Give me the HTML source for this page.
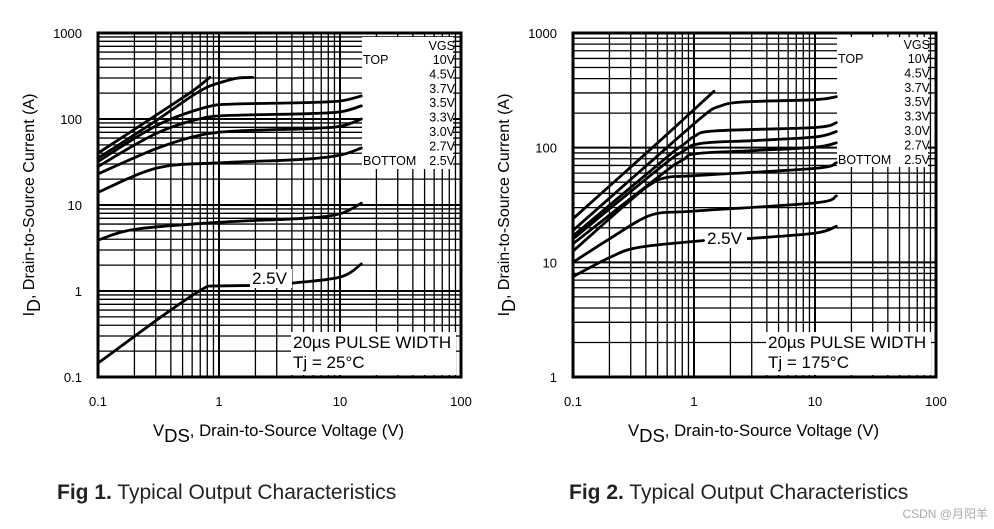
<!DOCTYPE html>
<html><head><meta charset="utf-8">
<style>
html,body{margin:0;padding:0;background:#fff;}
svg{display:block;font-family:"Liberation Sans",Arial,sans-serif;}
</style></head>
<body>
<svg id="root" width="994" height="529" viewBox="0 0 994 529"></svg>
<script>
// ---------- data ----------
const xTickLabels = ["0.1","1","10","100"];
const yTickLabels1 = ["0.1","1","10","100","1000"];
const yTickLabels2 = ["1","10","100","1000"];
const legendVgs = ["10V","4.5V","3.7V","3.5V","3.3V","3.0V","2.7V","2.5V"];

// Fig 1 (Tj = 25°C): [Vds, Id] pairs per curve
const f1_10V  = [[0.1,40],[0.3,110],[0.6,210],[0.84,305]];
const f1_4V5  = [[0.1,35],[0.3,95],[0.58,180],[0.8,235],[1.07,270],[1.4,298],[1.9,305]];
const f1_3V7  = [[0.1,32],[0.31,85],[0.79,138],[1.3,149],[5,155],[10,162],[15,185]];
const f1_3V5  = [[0.1,28],[0.31,69],[0.79,105],[1.5,111],[5,115],[10,121],[15,142]];
const f1_3V3  = [[0.1,23],[0.3,45],[0.7,65],[1.5,73],[5,77],[10,82],[15,100]];
const f1_2V7  = [[0.1,14],[0.31,27],[1.07,31],[5,34],[10,38],[15,46]];
const f1_low  = [[0.1,3.9],[0.2,5.2],[1,6.3],[5,7],[10,7.9],[15,10.5]];
const f1_2V5a = [[0.1,0.145],[0.81,1.14],[1.8,1.16]];
const f1_2V5b = [[3.9,1.23],[10,1.45],[15,2.06]];

// Fig 2 (Tj = 175°C)
const f2_10V  = [[0.1,24],[0.5,110],[1.46,310]];
const f2_4V5  = [[0.1,19],[0.5,85],[1.2,190],[1.6,228],[2.5,250],[10,262],[15,278]];
const f2_3V7  = [[0.1,17],[0.7,95],[1,125],[1.5,140],[10,150],[15,165]];
const f2_3V5  = [[0.1,16],[0.7,85],[1.1,108],[3,115],[10,124],[15,138]];
const f2_3V3  = [[0.1,14.5],[0.7,72],[1,88],[3,94],[10,101],[15,110]];
const f2_3V0  = [[0.1,12.5],[0.4,45],[0.6,55],[1,57],[10,66],[15,74]];
const f2_2V7  = [[0.1,10],[0.2,16],[0.45,26],[1,28],[10,33],[15,38]];
const f2_2V5a = [[0.1,7.5],[0.2,11],[0.35,13.5],[1.2,15.5]];
const f2_2V5b = [[2.6,16],[10,18],[15,20.6]];

const NS="http://www.w3.org/2000/svg";
const root=document.getElementById('root');
function el(tag,attrs,parent){const e=document.createElementNS(NS,tag);for(const k in attrs)e.setAttribute(k,attrs[k]);(parent||root).appendChild(e);return e;}
function clamp(v,a,b){const lo=Math.min(a,b),hi=Math.max(a,b);return Math.max(lo,Math.min(hi,v));}

function makeChart(cfg){
  const g=el('g',{});
  
  
  const X=v=>cfg.x0+(Math.log10(v)-cfg.xmin)/(cfg.xmax-cfg.xmin)*(cfg.x1-cfg.x0);
  const Y=v=>cfg.y1-(Math.log10(v)-cfg.ymin)/(cfg.ymax-cfg.ymin)*(cfg.y1-cfg.y0);
  const grid=el('g',{stroke:'#000',fill:'none'},g);
  
  
  for(let d=cfg.xmin;d<cfg.xmax;d++){for(let m=1;m<10;m++){const x=X(m*Math.pow(10,d));el('line',{x1:x,x2:x,y1:cfg.y0,y2:cfg.y1,'stroke-width':m==1?2:1.3},grid);}}
  for(let d=cfg.ymin;d<cfg.ymax;d++){for(let m=1;m<10;m++){const y=Y(m*Math.pow(10,d));el('line',{x1:cfg.x0,x2:cfg.x1,y1:y,y2:y,'stroke-width':m==1?2:1.3},grid);}}
  el('rect',{x:cfg.lx,y:cfg.y0+4,width:cfg.x1-cfg.lx-8,height:cfg.lh,fill:'#fff'},g);
  cfg.curves.forEach((c,i)=>{
    const pts=c.map(p=>[X(p[0]),Y(p[1])]);
    let d='M'+pts[0][0].toFixed(1)+','+pts[0][1].toFixed(1);
    for(let k=0;k<pts.length-1;k++){
      const p0=pts[Math.max(0,k-1)],p1=pts[k],p2=pts[k+1],p3=pts[Math.min(pts.length-1,k+2)];
      const c1=[p1[0]+(p2[0]-p0[0])/6,clamp(p1[1]+(p2[1]-p0[1])/6,p1[1],p2[1])];
      const c2=[p2[0]-(p3[0]-p1[0])/6,clamp(p2[1]-(p3[1]-p1[1])/6,p1[1],p2[1])];
      d+=' C'+c1[0].toFixed(1)+','+c1[1].toFixed(1)+' '+c2[0].toFixed(1)+','+c2[1].toFixed(1)+' '+p2[0].toFixed(1)+','+p2[1].toFixed(1);
    }
    const p=el('path',{d:d,stroke:'#000','stroke-width':2.8,fill:'none','stroke-linecap':'round'},g);
    
    
  });
  el('rect',{x:cfg.x0,y:cfg.y0,width:cfg.x1-cfg.x0,height:cfg.y1-cfg.y0,fill:'none',stroke:'#000','stroke-width':3},g);
  const lg=el('g',{'font-size':12.5,fill:'#000'},g);
  
  
  const rx=cfg.x1-6;
  let t=el('text',{x:rx,y:cfg.ly0,'text-anchor':'end'},lg);t.textContent='VGS';
  legendVgs.forEach((v,i)=>{const tt=el('text',{x:rx,y:cfg.ly0+14+i*14.4,'text-anchor':'end'},lg);tt.textContent=v;});
  t=el('text',{x:cfg.lx+1,y:cfg.ly0+14},lg);t.textContent='TOP';
  t=el('text',{x:cfg.lx+1,y:cfg.ly0+14+7*14.4},lg);t.textContent='BOTTOM';
  el('rect',{x:cfg.lab[0]-2,y:cfg.lab[1]-15,width:42,height:19,fill:'#fff'},g);
  t=el('text',{x:cfg.lab[0],y:cfg.lab[1],'font-size':17},g);t.textContent='2.5V';
  
  el('rect',{x:cfg.x1-170,y:cfg.y1-45,width:165,height:43,fill:'#fff'},g);
  t=el('text',{x:cfg.x1-168,y:cfg.y1-29,'font-size':17},g);t.textContent='20µs PULSE WIDTH';
  
  t=el('text',{x:cfg.x1-168,y:cfg.y1-9,'font-size':17},g);t.textContent=cfg.tj;
  
  xTickLabels.forEach((s,i)=>{const tt=el('text',{x:X(Math.pow(10,cfg.xmin+i)),y:406,'font-size':13,'text-anchor':'middle'},g);tt.textContent=s;
    });
  cfg.yTicks.forEach((s,i)=>{const tt=el('text',{x:cfg.x0-16,y:Y(Math.pow(10,cfg.ymin+i))+5,'font-size':13,'text-anchor':'end'},g);tt.textContent=s;
    });
  const xt=el('text',{x:(cfg.x0+cfg.x1)/2-1,y:436,'font-size':16.7,'text-anchor':'middle'},g);
  xt.innerHTML='V<tspan dy="6" font-size="18.5">DS</tspan><tspan dy="-6">, Drain-to-Source Voltage (V)</tspan>';
  
  const yt=el('text',{transform:'translate('+(cfg.x0-64)+','+((cfg.y0+cfg.y1)/2)+') rotate(-90)','font-size':16,'text-anchor':'middle'},g);
  yt.innerHTML='I<tspan dy="6" font-size="18">D</tspan><tspan dy="-6">, Drain-to-Source Current (A)</tspan>';
  
  const cap=el('text',{x:cfg.capx,y:499,'font-size':21,fill:'#222'},g);
  cap.innerHTML='<tspan font-weight="bold">'+cfg.fig+'</tspan>  Typical Output Characteristics';
  
}

makeChart({name:'chart-fig1',x0:98,x1:461,y0:33,y1:377,xmin:-1,xmax:2,ymin:-1,ymax:3,
  lx:362,lh:132,ly0:50,lab:[252,284],tj:'Tj = 25°C',yTicks:yTickLabels1,capx:57,fig:'Fig 1.',
  curves:[f1_10V,f1_4V5,f1_3V7,f1_3V5,f1_3V3,f1_2V7,f1_low,f1_2V5a,f1_2V5b],
  curveNames:['10v','4v5','3v7','3v5','3v3','2v7','low','2v5-a','2v5-b']});
makeChart({name:'chart-fig2',x0:573,x1:936,y0:33,y1:377,xmin:-1,xmax:2,ymin:0,ymax:3,
  lx:837,lh:130,ly0:49,lab:[707,244],tj:'Tj = 175°C',yTicks:yTickLabels2,capx:569,fig:'Fig 2.',
  curves:[f2_10V,f2_4V5,f2_3V7,f2_3V5,f2_3V3,f2_3V0,f2_2V7,f2_2V5a,f2_2V5b],
  curveNames:['10v','4v5','3v7','3v5','3v3','3v0','2v7','2v5-a','2v5-b']});

const wm=el('text',{x:988,y:518,'font-size':12,fill:'#aaa','text-anchor':'end','font-family':'"Liberation Sans","Noto Sans CJK SC",sans-serif'});
wm.textContent='CSDN @月阳羊';


</script>
</body></html>
